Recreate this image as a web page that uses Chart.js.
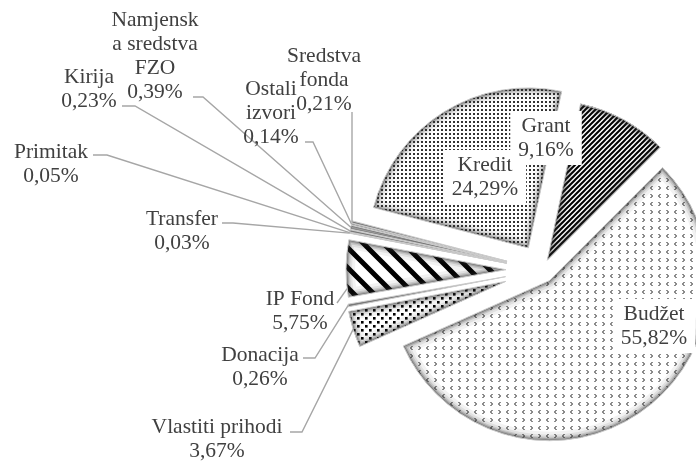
<!DOCTYPE html>
<html><head><meta charset="utf-8">
<script src="https://cdn.jsdelivr.net/npm/chart.js@4.4.0/dist/chart.umd.min.js"></script>
<style>html,body{margin:0;padding:0;background:#fff;overflow:hidden}
#probe{position:absolute;left:-999px;top:0;font:21px "Liberation Serif",serif}</style>
</head><body>
<span id="probe">Budžet 0,39%</span>
<canvas id="c" width="696" height="461" style="display:block;width:696px;height:461px"></canvas>
<script>
// ---- data ----
const categories = ['Budžet','Vlastiti prihodi','Donacija','IP Fond','Transfer','Primitak','Kirija','Namjenska sredstva FZO','Ostali izvori','Sredstva fonda','Kredit','Grant'];
const labelLines = [['Budžet'],['Vlastiti prihodi'],['Donacija'],['IP Fond'],['Transfer'],['Primitak'],['Kirija'],['Namjensk','a sredstva','FZO'],['Ostali','izvori'],['Sredstva','fonda'],['Kredit'],['Grant']];
const shares = [55.82,3.67,0.26,5.75,0.03,0.05,0.23,0.39,0.14,0.21,24.29,9.16];

// ---- layout / style (not data) ----
const explode = [13,38,37,36,36,36,36,36,36,36,26,11];
const labelLayout = [
  {pos:[654,326],box:true},
  {pos:[217,439],leader:[[290,432],[302,432]]},
  {pos:[260,367],leader:[[303,358],[315,358]]},
  {pos:[300,311],leader:[[337,303]],at:0.15},
  {pos:[182,231],leader:[[222,223],[233,223]]},
  {pos:[51,164],leader:[[93,155],[107,155]]},
  {pos:[89,89],leader:[[122,106],[135,106]]},
  {pos:[155,56],leader:[[193,97],[203,97]]},
  {pos:[271,113],leader:[[305,142],[313,142]]},
  {pos:[324,80],leader:[[352,112]]},
  {pos:[485,177],box:true},
  {pos:[546,138],box:true}
];
const FONT = '21.5px "Liberation Serif", "Times New Roman", serif';
const LH = 24;

// ---- patterns ----
function tile(w,h,draw){const c=document.createElement('canvas');c.width=w;c.height=h;const g=c.getContext('2d');g.fillStyle='#fff';g.fillRect(0,0,w,h);draw(g,w,h);return g.createPattern(c,'repeat');}
const pBudzet = tile(16,16,(g)=>{g.strokeStyle='#1a1a1a';g.lineWidth=1;
  const lt=(x,y)=>{g.beginPath();g.moveTo(x+2.5,y);g.lineTo(x+0.5,y+2);g.lineTo(x+2.5,y+4);g.stroke();};
  const gt=(x,y)=>{g.beginPath();g.moveTo(x+0.5,y);g.lineTo(x+2.5,y+2);g.lineTo(x+0.5,y+4);g.stroke();};
  lt(2,2);gt(10,2);gt(2,10);lt(10,10);});
const pKredit = tile(4,4,(g)=>{g.fillStyle='#333';g.fillRect(1,1,2,2);});
const pGrant = tile(5,5,(g,w,h)=>{g.strokeStyle='#000';g.lineWidth=2;g.beginPath();g.moveTo(0,h);g.lineTo(w,0);g.moveTo(-1,1);g.lineTo(1,-1);g.moveTo(w-1,h+1);g.lineTo(w+1,h-1);g.stroke();});
const pIP = tile(20,20,(g,w,h)=>{g.strokeStyle='#000';g.lineWidth=5;g.beginPath();g.moveTo(0,0);g.lineTo(w,h);g.moveTo(-4,h-4);g.lineTo(4,h+4);g.moveTo(w-4,-4);g.lineTo(w+4,4);g.stroke();});
const pVlast = tile(8,8,(g)=>{g.fillStyle='#000';g.fillRect(1,1,2.6,2.6);g.fillRect(5,5,2.6,2.6);});
const fills = [pBudzet,pVlast,'#f4f4f4',pIP,'#f4f4f4','#f4f4f4','#f4f4f4','#f4f4f4','#f4f4f4','#f4f4f4',pKredit,pGrant];

const fmt = v => v.toFixed(2).replace('.', ',') + '%';

const deco = {
  id:'deco',
  afterDatasetUpdate(chart,args){
    args.meta.data.forEach((a,i)=>{const mid=(a.startAngle+a.endAngle)/2;a.x+=Math.cos(mid)*explode[i];a.y+=Math.sin(mid)*explode[i];});
  },
  afterDatasetsDraw(chart){
    const ctx=chart.ctx, meta=chart.getDatasetMeta(0);
    // bevel edges
    meta.data.forEach((a)=>{
      const p=new Path2D();p.moveTo(a.x,a.y);p.arc(a.x,a.y,a.outerRadius,a.startAngle,a.endAngle);p.closePath();
      ctx.save();ctx.clip(p);ctx.lineJoin='round';
      [[18,0.06],[12,0.09],[8,0.14],[5,0.22],[2.5,0.3]].forEach(([w,al])=>{ctx.lineWidth=w;ctx.strokeStyle='rgba(40,40,40,'+al+')';ctx.stroke(p);});
      ctx.restore();
      ctx.save();ctx.lineWidth=1;ctx.strokeStyle='#cccccc';ctx.stroke(p);ctx.restore();
    });
    // leader lines
    ctx.save();
    ctx.strokeStyle='#a6a6a6';ctx.lineWidth=1.4;
    meta.data.forEach((a,i)=>{
      const spec=labelLayout[i]; if(!spec.leader) return;
      const f=(typeof spec.at==='number')?spec.at:0.5;
      const ang=a.startAngle+f*(a.endAngle-a.startAngle);
      const px=a.x+Math.cos(ang)*a.outerRadius, py=a.y+Math.sin(ang)*a.outerRadius;
      ctx.beginPath();
      ctx.moveTo(spec.leader[0][0],spec.leader[0][1]);
      for(let k=1;k<spec.leader.length;k++) ctx.lineTo(spec.leader[k][0],spec.leader[k][1]);
      ctx.lineTo(px,py);
      ctx.stroke();
    });
    ctx.restore();
    // labels
    ctx.save();
    ctx.font=FONT;ctx.textAlign='center';ctx.textBaseline='middle';
    meta.data.forEach((a,i)=>{
      const spec=labelLayout[i]; const lines=labelLines[i].concat([fmt(shares[i])]);
      const n=lines.length;
      if(spec.box){
        let w=0;lines.forEach(s=>w=Math.max(w,ctx.measureText(s).width));
        ctx.fillStyle='#fff';ctx.fillRect(spec.pos[0]-w/2-8,spec.pos[1]-n*LH/2-3,w+16,n*LH+6);
      }
      ctx.fillStyle='#404040';
      lines.forEach((s,k)=>ctx.fillText(s,spec.pos[0],spec.pos[1]+(k-(n-1)/2)*LH));
    });
    ctx.restore();
  }
};

function build(){
  new Chart(document.getElementById('c'),{
    type:'pie',
    data:{labels:categories,datasets:[{data:shares,backgroundColor:fills,borderWidth:0,clip:false}]},
    options:{
      responsive:false,animation:false,events:[],
      rotation:45,radius:160,
      layout:{padding:{left:390,right:2,top:80,bottom:1}},
      plugins:{legend:{display:false},tooltip:{enabled:false}}
    },
    plugins:[deco]
  });
}
if(document.fonts && document.fonts.load){
  document.fonts.load(FONT,'Budžet').then(build,build);
} else build();
</script>
</body></html>
